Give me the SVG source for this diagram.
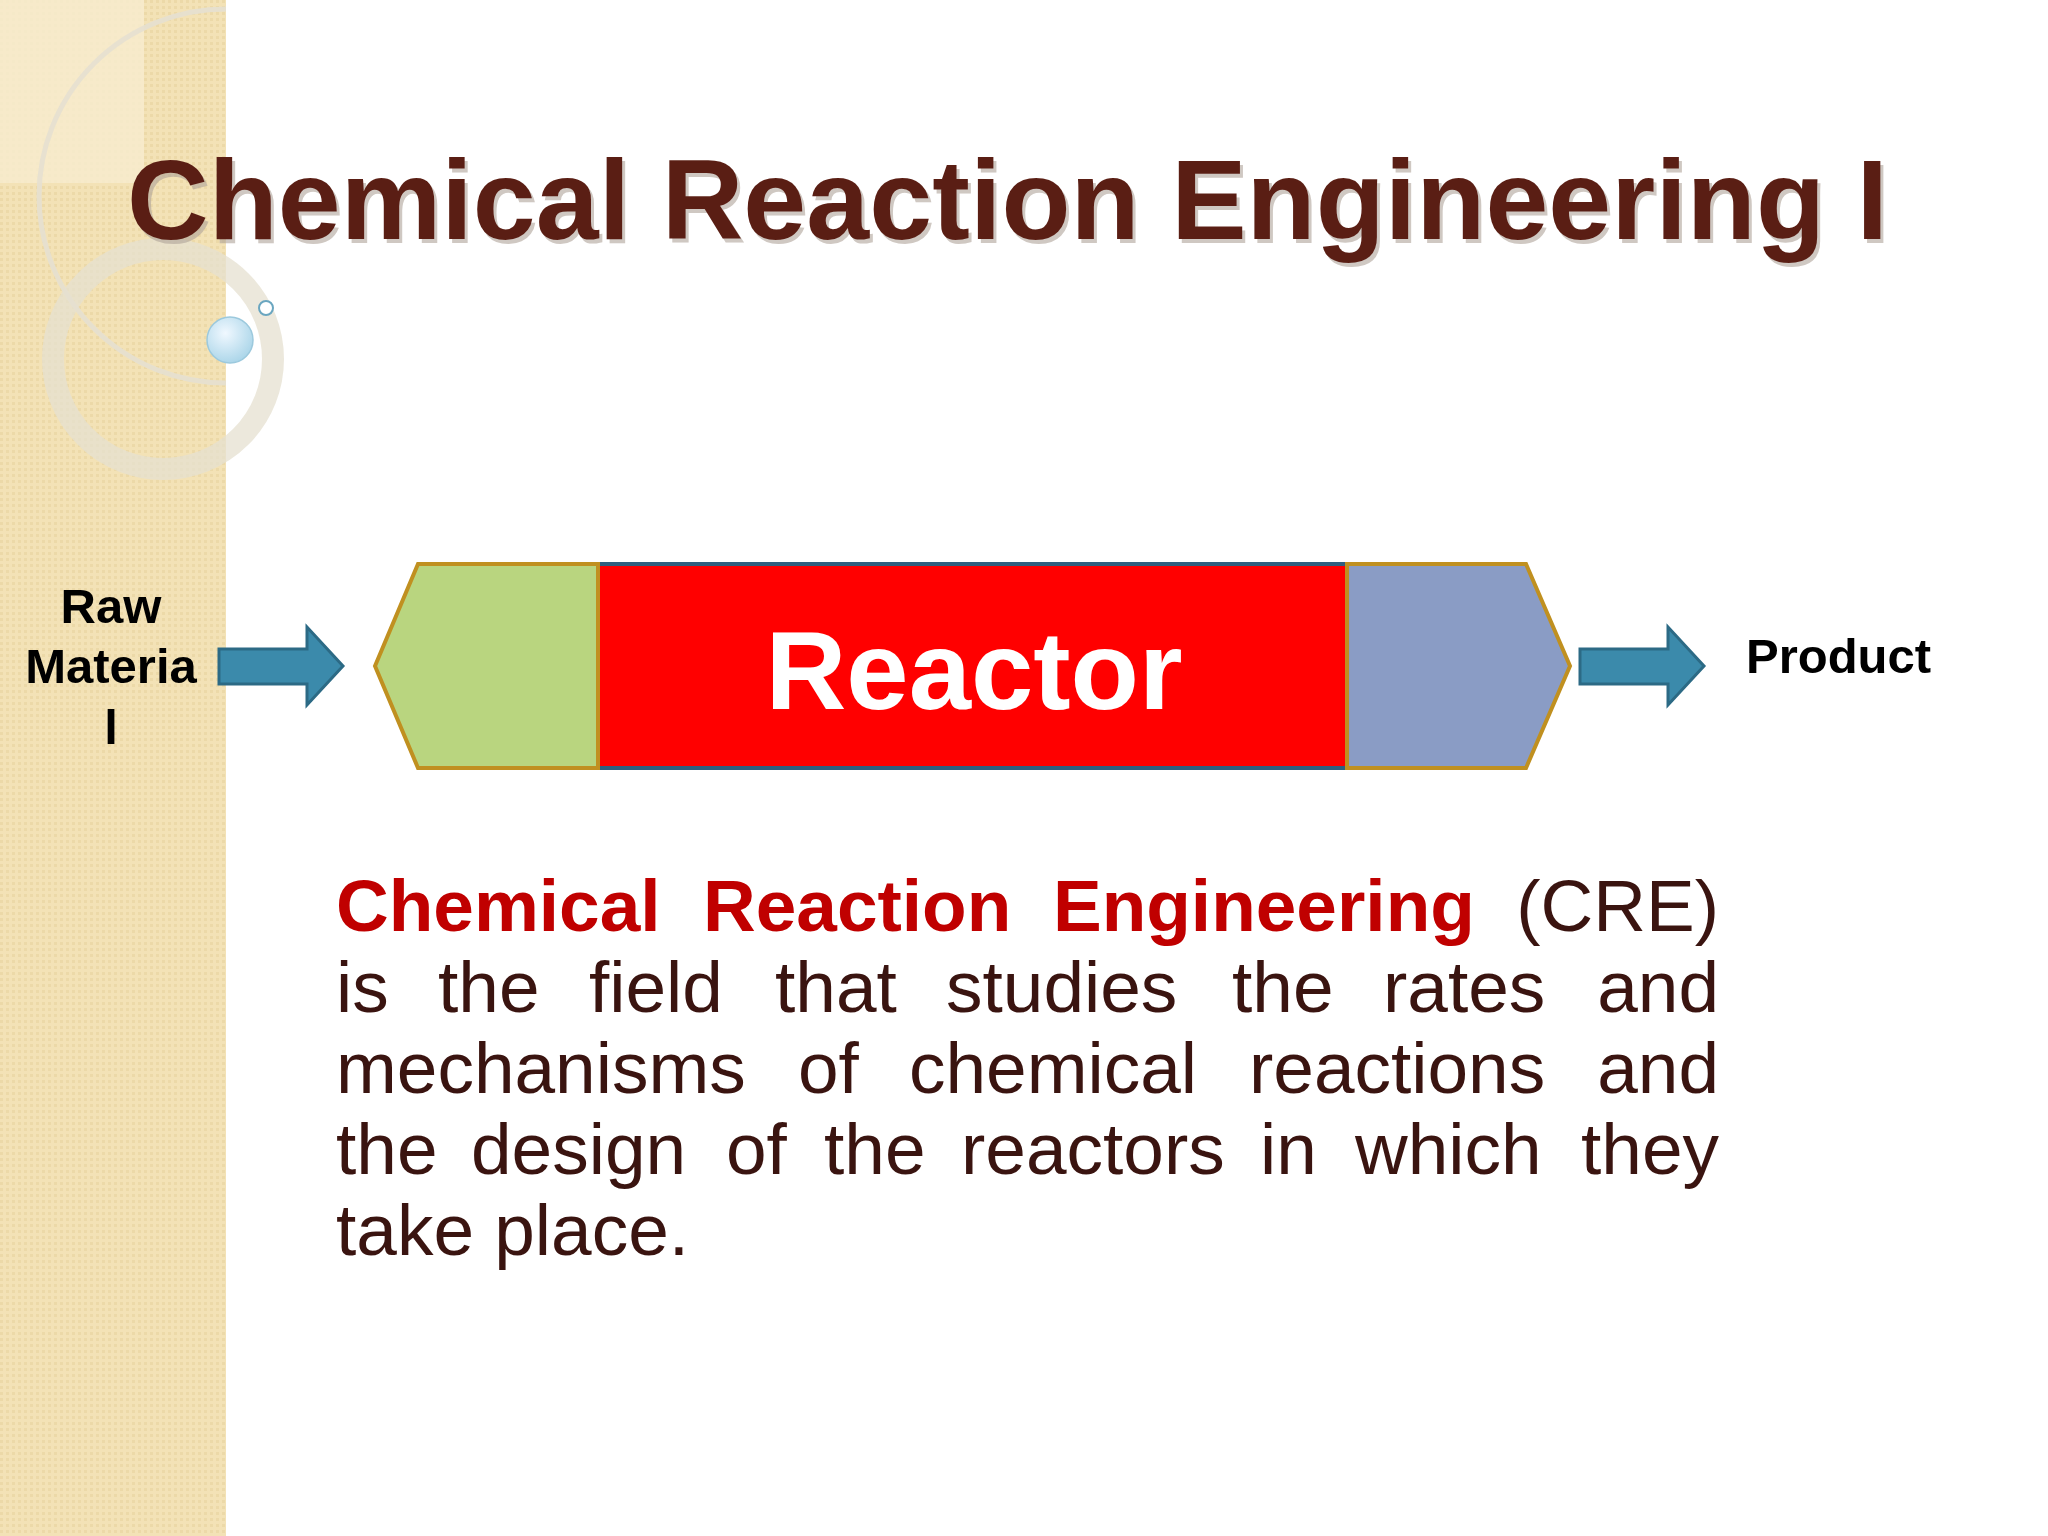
<svg xmlns="http://www.w3.org/2000/svg" width="2048" height="1536" viewBox="0 0 2048 1536">
<defs>
<style>
.p{font-family:"Liberation Sans",Arial,sans-serif;font-size:73px;fill:#3a1410}
.r{font-weight:bold;fill:#c00000}
.e{text-anchor:end}
.lbl{font-family:"Liberation Sans",Arial,sans-serif;font-weight:bold;font-size:49px;fill:#000}
.arr{fill:#3b8aab;stroke:#2c6a85;stroke-width:3}
</style>
<pattern id="tx" width="6" height="6" patternUnits="userSpaceOnUse"><rect width="6" height="6" fill="#f3e2b6"/><rect width="3" height="3" fill="#ecd9a8"/></pattern>
<radialGradient id="bub" cx="0.4" cy="0.35" r="0.7"><stop offset="0" stop-color="#f0f8ff"/><stop offset="1" stop-color="#a8d4e8"/></radialGradient>
<clipPath id="strip"><rect x="0" y="0" width="226" height="1536"/></clipPath>
</defs>
<rect width="2048" height="1536" fill="#fff"/>
<g id="background">
<rect x="0" y="0" width="226" height="1536" fill="url(#tx)"/>
<rect x="0" y="0" width="144" height="183" fill="#f7ecd0" opacity="0.8"/>
<g clip-path="url(#strip)">
<circle cx="226" cy="196" r="187" fill="none" stroke="#e6e0d0" stroke-width="5" opacity="0.9"/>
</g>
<circle cx="163" cy="359" r="110" fill="none" stroke="#e6e0d0" stroke-width="22" opacity="0.75"/>
<circle cx="230" cy="340" r="23" fill="url(#bub)" stroke="#9cc9dd" stroke-width="1.5"/>
<circle cx="266" cy="308" r="7" fill="#fff" stroke="#6aa6c0" stroke-width="2"/>
</g>
<g id="title">
<text x="130" y="243" font-family="Liberation Sans,Arial,sans-serif" font-weight="bold" font-size="113" fill="#b0a49a" opacity="0.6" textLength="1761">Chemical Reaction Engineering I</text>
<text x="127" y="239" font-family="Liberation Sans,Arial,sans-serif" font-weight="bold" font-size="113" fill="#5a1e14" textLength="1761">Chemical Reaction Engineering I</text>
</g>
<g id="reactor">
<rect x="598" y="564" width="749" height="204" fill="#ff0000" stroke="#2f5f7f" stroke-width="4"/>
<polygon points="375,666 418,564 598,564 598,768 418,768" fill="#b9d57f" stroke="#c09020" stroke-width="4"/>
<polygon points="1347,564 1526,564 1570,666 1526,768 1347,768" fill="#8a9cc5" stroke="#c09020" stroke-width="4"/>
<text x="974" y="709" text-anchor="middle" font-family="Liberation Sans,Arial,sans-serif" font-weight="bold" font-size="112" fill="#fff">Reactor</text>
</g>
<g id="connectors">
<polygon class="arr" points="219,649 307,649 307,627 343,666 307,705 307,684 219,684"/>
<polygon class="arr" points="1580,649 1668,649 1668,627 1704,666 1668,705 1668,684 1580,684"/>
</g>
<g id="raw">
<text class="lbl" x="111" y="623" text-anchor="middle">Raw</text>
<text class="lbl" x="111" y="683" text-anchor="middle">Materia</text>
<text class="lbl" x="111" y="744" text-anchor="middle">l</text>
</g>
<g id="product"><text class="lbl" x="1746" y="673">Product</text></g>
<g id="paragraph" class="p">
<text class="p r" x="336" y="931">Chemical</text><text class="p r" x="703" y="931">Reaction</text><text class="p r" x="1053" y="931">Engineering</text><text class="p e" x="1719" y="931">(CRE)</text>
<text class="p" x="336" y="1012">is</text><text class="p" x="438" y="1012">the</text><text class="p" x="589" y="1012">field</text><text class="p" x="775" y="1012">that</text><text class="p" x="946" y="1012">studies</text><text class="p" x="1232" y="1012">the</text><text class="p" x="1383" y="1012">rates</text><text class="p e" x="1719" y="1012">and</text>
<text class="p" x="336" y="1093">mechanisms</text><text class="p" x="798" y="1093">of</text><text class="p" x="909" y="1093">chemical</text><text class="p" x="1249" y="1093">reactions</text><text class="p e" x="1719" y="1093">and</text>
<text class="p" x="336" y="1174">the</text><text class="p" x="471" y="1174">design</text><text class="p" x="726" y="1174">of</text><text class="p" x="824" y="1174">the</text><text class="p" x="961" y="1174">reactors</text><text class="p" x="1260" y="1174">in</text><text class="p" x="1355" y="1174">which</text><text class="p e" x="1719" y="1174">they</text>
<text class="p" x="336" y="1255">take place.</text>
</g>
</svg>
